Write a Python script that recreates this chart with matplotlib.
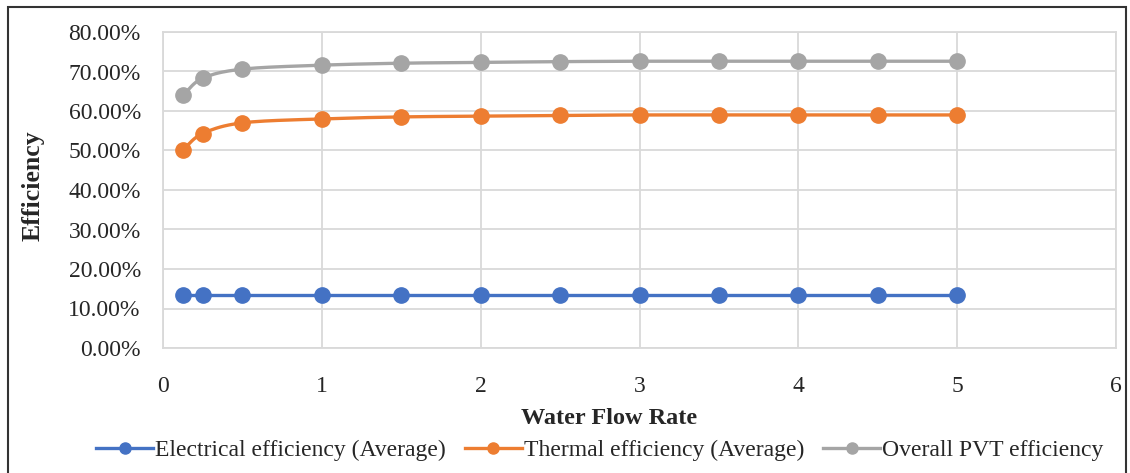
import numpy as np
import matplotlib.pyplot as plt
from matplotlib.patches import Rectangle
from matplotlib.ticker import PercentFormatter
from matplotlib.lines import Line2D

flow = [0.125, 0.25, 0.5, 1, 1.5, 2, 2.5, 3, 3.5, 4, 4.5, 5]
electrical = [13.4, 13.4, 13.4, 13.4, 13.4, 13.4, 13.4, 13.4, 13.4, 13.4, 13.4, 13.4]
thermal = [50.2, 54.3, 57.0, 58.0, 58.5, 58.7, 58.9, 59.0, 59.0, 59.0, 59.0, 59.0]
overall = [64.0, 68.3, 70.6, 71.6, 72.1, 72.3, 72.5, 72.6, 72.6, 72.6, 72.6, 72.6]
names = ["Electrical efficiency (Average)", "Thermal efficiency (Average)", "Overall PVT efficiency"]
colors = ["#4472C4", "#ED7D31", "#A5A5A5"]


def smooth(x, y, n=20):
    # catmull-rom style curve through the points, like excel's smoothed line
    x = np.asarray(x, float)
    y = np.asarray(y, float)
    px = np.concatenate([[2 * x[0] - x[1]], x, [2 * x[-1] - x[-2]]])
    py = np.concatenate([[2 * y[0] - y[1]], y, [2 * y[-1] - y[-2]]])
    xs, ys = [], []
    for i in range(1, len(px) - 2):
        t = np.linspace(0, 1, n)
        for p, out in ((px, xs), (py, ys)):
            p0, p1, p2, p3 = p[i - 1], p[i], p[i + 1], p[i + 2]
            m1 = (p2 - p0) / 6
            m2 = (p3 - p1) / 6
            c = (1 - t) ** 3 * p1 + 3 * (1 - t) ** 2 * t * (p1 + m1) + 3 * (1 - t) * t ** 2 * (p2 - m2) + t ** 3 * p2
            out.extend(c)
    return np.array(xs), np.array(ys)


plt.rcParams['font.family'] = ['Liberation Serif', 'DejaVu Serif']
txtcol = "#262626"

fig = plt.figure(figsize=(11.3, 4.73), dpi=100)
ax = fig.add_axes([163 / 1130, 1 - 348 / 473, (1116 - 163) / 1130, (348 - 32) / 473])

handles = []
for data, name, col in zip([electrical, thermal, overall], names, colors):
    sx, sy = smooth(flow, data)
    ax.plot(sx, sy, color=col, lw=2.4, zorder=3)
    ax.plot(flow, data, 'o', color=col, ms=11, zorder=4)
    handles.append(Line2D([], [], color=col, lw=2.4, marker='o', ms=8, label=name))

ax.set_xlim(0, 6)
ax.set_ylim(0, 80)
ax.set_xticks(range(0, 7))
ax.set_yticks(range(0, 81, 10))
ax.yaxis.set_major_formatter(PercentFormatter(decimals=2))
ax.grid(True, color="#D9D9D9", lw=1.3)
ax.set_axisbelow(True)
for s in ax.spines.values():
    s.set_color("#D9D9D9")
    s.set_linewidth(1.3)
ax.tick_params(length=0, labelsize=17, labelcolor=txtcol)
ax.tick_params(axis='x', pad=20)
ax.tick_params(axis='y', pad=16)

fig.text(609 / 1130, 1 - 418 / 473, "Water Flow Rate", fontsize=17.5, fontweight='bold',
         color=txtcol, ha='center', va='center')
fig.text(33 / 1130, 1 - 186 / 473, "Efficiency", fontsize=18.5, fontweight='bold',
         color=txtcol, ha='center', va='center', rotation=90)

fig.legend(handles=handles, loc='center', bbox_to_anchor=(600 / 1130, 1 - 450 / 473), ncol=3,
           frameon=False, fontsize=17, handlelength=2.4, columnspacing=0.8, handletextpad=0.1,
           labelcolor=txtcol)

fig.patches.append(Rectangle((8 / 1130, -0.05), 1118 / 1130, 1 - 7 / 473 + 0.05, transform=fig.transFigure,
                             fill=False, edgecolor="#333333", lw=1.5))

fig.savefig("out.png", dpi=100)
